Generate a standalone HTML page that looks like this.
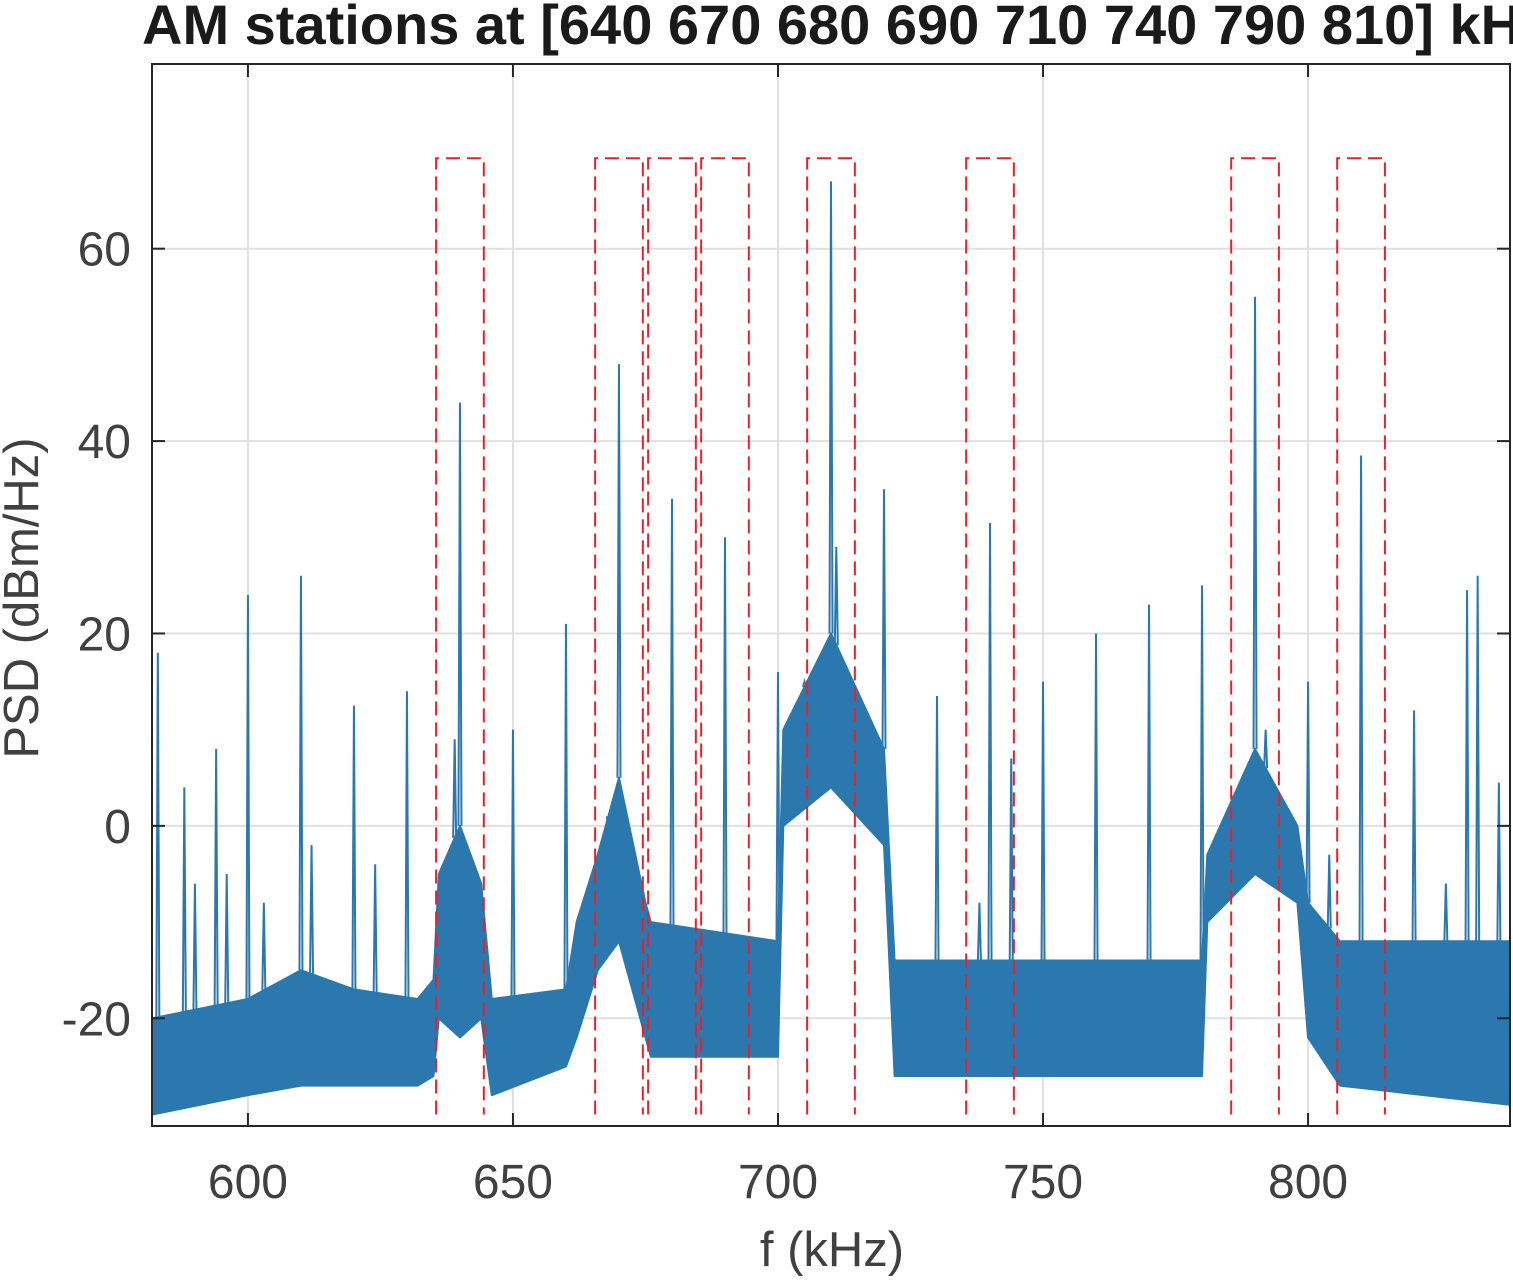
<!DOCTYPE html>
<html><head><meta charset="utf-8"><style>
body{margin:0;background:#fff;overflow:hidden;}
svg text{font-family:"Liberation Sans",Arial,sans-serif;}
</style></head><body>
<svg id="chart" width="1513" height="1279" viewBox="0 0 1513 1279"></svg>
<script>
const stations = [640,670,680,690,710,740,790,810];
const xTicks = [600,650,700,750,800];
const yTicks = [-20,0,20,40,60];
const bandF = [582,600,610,620,632,635,636,640,644,646,660,662,666,670,675,676,700,701,710,720,722,780,781,790,798,800,806,838];
const bandUpper = [-20,-18,-15,-17,-18,-16,-5,0,-6,-18,-17,-10,-3,5,-8,-10,-12,10,20,8,-14,-14,-3,8,0,-8,-12,-12];
const bandLower = [-30,-28,-27,-27,-27,-26,-20,-22,-20,-28,-25,-22,-15,-12,-22,-24,-24,0,4,-2,-26,-26,-10,-5,-8,-22,-27,-29];
const spikeF = [583,588,590,594,596,600,603,610,612,620,624,630,639,640,650,660,668,670,680,690,700,705,710,711,720,730,738,740,744,750,760,770,780,786,790,792,800,804,810,820,826,830,832,836];
const spikeV = [18,4,-6,8,-5,24,-8,26,-2,12.5,-4,14,9,44,10,21,-1,48,34,30,16,15,67,29,35,13.5,-8,31.5,7,15,20,23,25,2,55,10,15,-3,38.5,12,-6,24.5,26,4.5];

const L=152,R=1510,T=64,B=1126, fMin=581.9,fMax=838.1,yMin=-31.2,yMax=79.2;
const X=f=>L+(f-fMin)/(fMax-fMin)*(R-L);
const Y=v=>B-(v-yMin)/(yMax-yMin)*(B-T);
const svg=document.getElementById('chart');
const NS='http://www.w3.org/2000/svg';
function mk(tag,attrs,parent){const e=document.createElementNS(NS,tag);for(const k in attrs)e.setAttribute(k,attrs[k]);(parent||svg).appendChild(e);return e;}

mk('rect',{x:L,y:T,width:R-L,height:B-T,fill:'#fff'});
xTicks.forEach(t=>{const g=mk('line',{x1:X(t),x2:X(t),y1:T,y2:B,stroke:'#e0e0e0','stroke-width':2});

});
yTicks.forEach(t=>{const g=mk('line',{x1:L,x2:R,y1:Y(t),y2:Y(t),stroke:'#e0e0e0','stroke-width':2});

});

const defs=mk('defs',{});const cp=mk('clipPath',{id:'cp'},defs);mk('rect',{x:L,y:T,width:R-L,height:B-T},cp);
const gData=mk('g',{'clip-path':'url(#cp)'});
let pts=[];
for(let i=0;i<bandF.length;i++)pts.push(X(bandF[i]).toFixed(1)+','+Y(bandUpper[i]).toFixed(1));
for(let i=bandF.length-1;i>=0;i--)pts.push(X(bandF[i]).toFixed(1)+','+Y(bandLower[i]).toFixed(1));
const band=mk('polygon',{points:pts.join(' '),fill:'#2a78ad',stroke:'#2a78ad','stroke-width':2,'stroke-linejoin':'round'},gData);


function baseAt(f){for(let i=0;i<bandF.length-1;i++){if(f>=bandF[i]&&f<=bandF[i+1]){const t=(f-bandF[i])/(bandF[i+1]-bandF[i]);return bandUpper[i]+t*(bandUpper[i+1]-bandUpper[i]);}}return bandUpper[bandUpper.length-1];}
spikeF.forEach((f,i)=>{const b=baseAt(f);const x=X(f);
const p=mk('polyline',{points:`${x-1.5},${Y(b)} ${x},${Y(spikeV[i])} ${x+1.5},${Y(b)}`,fill:'none',stroke:'#2a78ad','stroke-width':2},gData);

});

stations.forEach(s=>{const x1=X(s-4.5),x2=X(s+4.5),yt=Y(69.4),yb=Y(-30);
const p=mk('polyline',{points:`${x1},${yb} ${x1},${yt} ${x2},${yt} ${x2},${yb}`,fill:'none',stroke:'#e8202a','stroke-width':2,'stroke-dasharray':'14,7'});

});

const ax=mk('rect',{x:L,y:T,width:R-L,height:B-T,fill:'none',stroke:'#262626','stroke-width':2});


xTicks.forEach(t=>{mk('line',{x1:X(t),x2:X(t),y1:B,y2:B-13,stroke:'#262626','stroke-width':2});mk('line',{x1:X(t),x2:X(t),y1:T,y2:T+13,stroke:'#262626','stroke-width':2});
const tx=mk('text',{x:X(t),y:1198,'font-size':48,fill:'#404040','text-anchor':'middle'});tx.textContent=t;

});
yTicks.forEach(t=>{mk('line',{x1:L,x2:L+13,y1:Y(t),y2:Y(t),stroke:'#262626','stroke-width':2});mk('line',{x1:R,x2:R-13,y1:Y(t),y2:Y(t),stroke:'#262626','stroke-width':2});
const tx=mk('text',{x:131,y:Y(t)+17,'font-size':48,fill:'#404040','text-anchor':'end'});tx.textContent=t;

});
const xl=mk('text',{x:832,y:1266,'font-size':49,fill:'#404040','text-anchor':'middle'});xl.textContent='f (kHz)';


const yl=mk('text',{x:0,y:0,'font-size':49,fill:'#404040','text-anchor':'middle',transform:'translate(38,598) rotate(-90)'});yl.textContent='PSD (dBm/Hz)';


const tt=mk('text',{x:142,y:44,'font-size':56,'font-weight':'bold',fill:'#1a1a1a'});tt.textContent='AM stations at [640 670 680 690 710 740 790 810] kHz';


</script>
</body></html>
